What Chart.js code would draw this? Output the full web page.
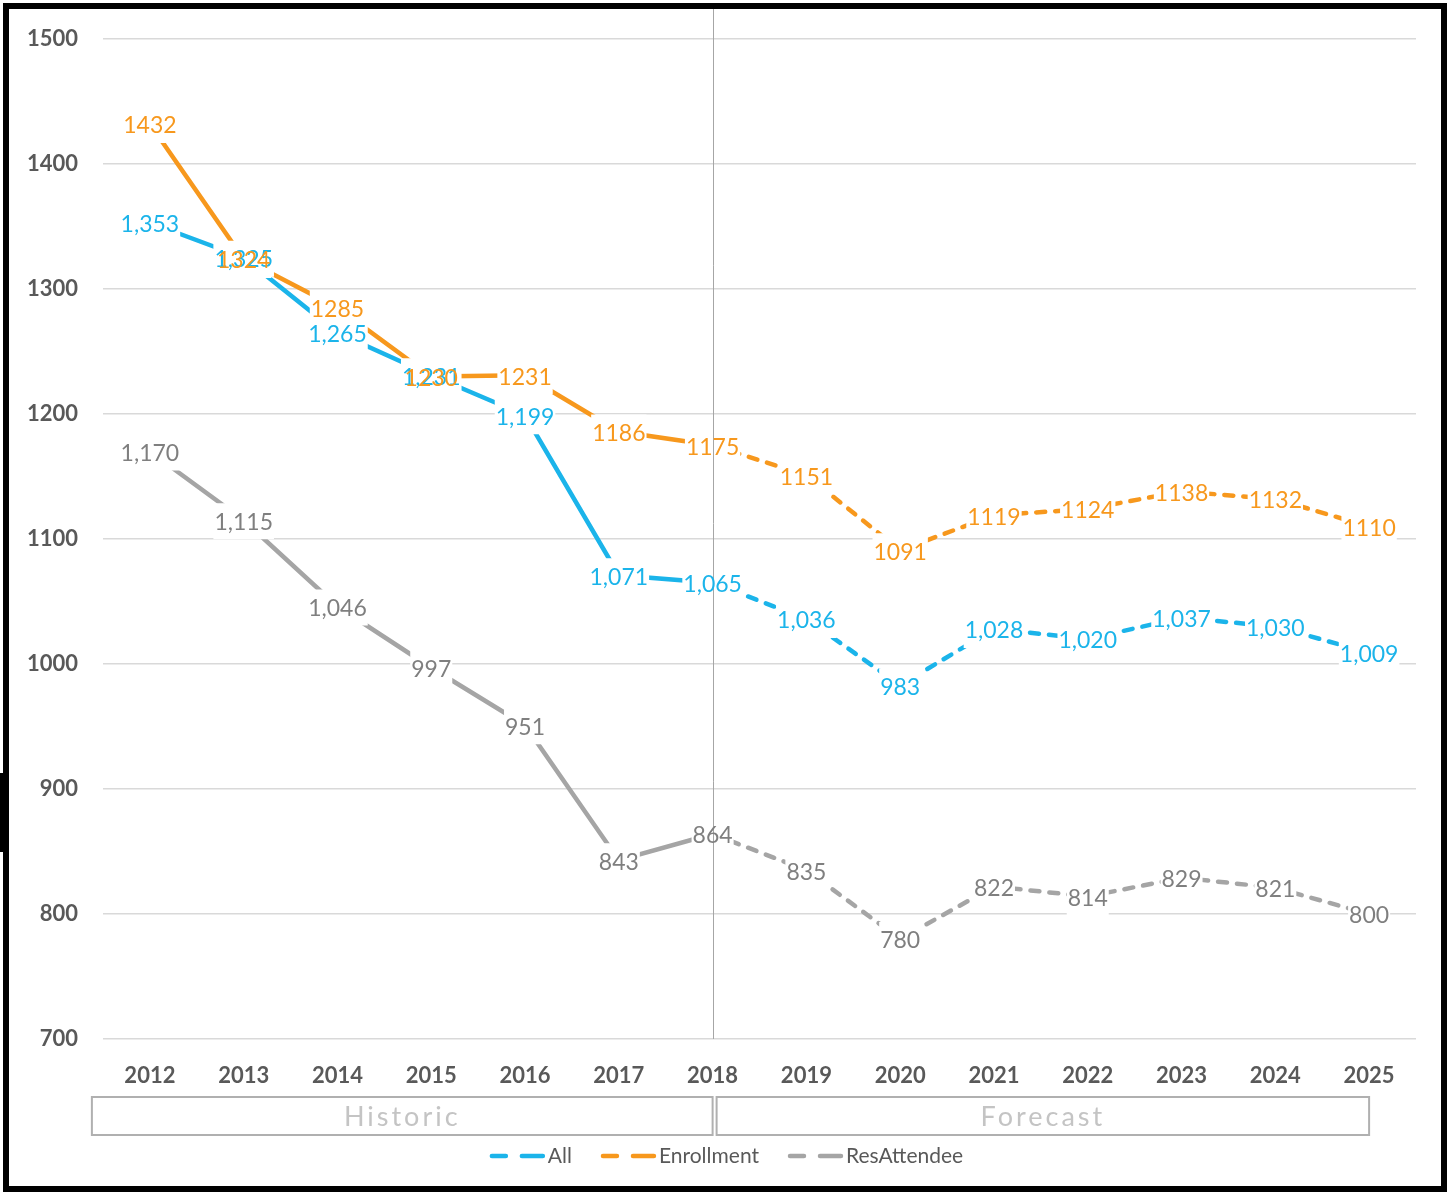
<!DOCTYPE html>
<html>
<head>
<meta charset="utf-8">
<script src="https://cdn.jsdelivr.net/npm/chart.js@4.4.1/dist/chart.umd.min.js"></script>
<style>
  body { margin: 0; background: #fff; }
  canvas { display: block; }
</style>
</head>
<body>
<canvas id="enrollChart" width="1447" height="1192"></canvas>
<script>
const years = ['2012', '2013', '2014', '2015', '2016', '2017', '2018', '2019', '2020', '2021', '2022', '2023', '2024', '2025'];
const allValues = [1353, 1325, 1265, 1231, 1199, 1071, 1065, 1036, 983, 1028, 1020, 1037, 1030, 1009];
const enrollment = [1432, 1324, 1285, 1230, 1231, 1186, 1175, 1151, 1091, 1119, 1124, 1138, 1132, 1110];
const resAttendee = [1170, 1115, 1046, 997, 951, 843, 864, 835, 780, 822, 814, 829, 821, 800];
const yMin = 700, yMax = 1500, yStep = 100;
const forecastFrom = 6; // 2018: dashed from here on
const periods = ['Historic', 'Forecast'];

const BLUE = '#1BB4EA', ORANGE = '#F7981D', GRAY = '#A5A5A5';
const TEXT = '#595959';

const dashAfter = (ctx) => ctx.p0DataIndex >= forecastFrom ? [9, 10] : [];

function line(label, data, color) {
  return {
    label, data,
    borderColor: color,
    backgroundColor: color,
    borderWidth: 4.5,
    borderCapStyle: 'round',
    pointRadius: 0,
    tension: 0,
    segment: { borderDash: dashAfter }
  };
}

const withComma = v => v.toLocaleString('en-US');
const plain = v => String(v);
const labelStyle = [
  { fmt: withComma, color: '#1BB4EA' },
  { fmt: plain, color: '#F7981D' },
  { fmt: withComma, color: '#7F7F7F' }
];

// data labels with white backing, plus the 2018 divider line
const labelPlugin = {
  id: 'pointLabels',
  afterDatasetsDraw(chart) {
    const ctx = chart.ctx;
    const items = [];
    ctx.save();
    ctx.font = '23px Lato';
    chart.data.datasets.forEach((ds, i) => {
      chart.getDatasetMeta(i).data.forEach((pt, j) => {
        const text = labelStyle[i].fmt(ds.data[j]);
        items.push({ x: pt.x, y: pt.y + 2, text, w: ctx.measureText(text).width, color: labelStyle[i].color });
      });
    });
    ctx.fillStyle = '#fff';
    items.forEach(it => ctx.fillRect(it.x - it.w / 2 - 1, it.y - 19, it.w + 2, 36));

    const xs = chart.scales.x;
    const divX = Math.round(xs.getPixelForValue(forecastFrom)) + 0.5;
    ctx.strokeStyle = '#A6A6A6';
    ctx.lineWidth = 1;
    ctx.beginPath();
    ctx.moveTo(divX, 8);
    ctx.lineTo(divX, chart.chartArea.bottom);
    ctx.stroke();

    ctx.textAlign = 'center';
    ctx.textBaseline = 'middle';
    items.forEach(it => {
      ctx.fillStyle = it.color;
      ctx.fillText(it.text, it.x, it.y);
    });
    ctx.restore();
  }
};

// period boxes, legend and outer frame
const decorPlugin = {
  id: 'decor',
  afterDraw(chart) {
    const ctx = chart.ctx;
    const xs = chart.scales.x;
    const x0 = xs.getPixelForValue(0);
    const xf = xs.getPixelForValue(forecastFrom);
    const xl = xs.getPixelForValue(years.length - 1);
    ctx.save();

    const boxes = [[x0 - 58, xf], [xf + 4, xl]];
    ctx.lineWidth = 2;
    ctx.strokeStyle = '#B0B0B0';
    ctx.font = '27px Lato';
    ctx.letterSpacing = '3px';
    ctx.textAlign = 'center';
    ctx.textBaseline = 'middle';
    boxes.forEach(([a, b], i) => {
      ctx.strokeRect(a, 1097, b - a, 38);
      ctx.fillStyle = '#C4C4C4';
      ctx.fillText(periods[i], (a + b) / 2, 1117);
    });
    ctx.letterSpacing = '0px';

    // legend
    ctx.font = '21px Lato';
    ctx.textAlign = 'left';
    const ly = 1156;
    const entries = chart.data.datasets.map(ds => ({ text: ds.label, color: ds.borderColor }));
    const sample = 56, gapText = 3, gapItem = 28;
    let total = 0;
    entries.forEach(e => { e.w = ctx.measureText(e.text).width; total += sample + gapText + e.w; });
    total += gapItem * (entries.length - 1);
    let lx = 726 - total / 2;
    entries.forEach(e => {
      ctx.strokeStyle = e.color;
      ctx.lineWidth = 4.5;
      ctx.lineCap = 'round';
      ctx.beginPath();
      ctx.moveTo(lx + 3, ly); ctx.lineTo(lx + 17, ly);
      ctx.moveTo(lx + 33, ly); ctx.lineTo(lx + sample - 2, ly);
      ctx.stroke();
      ctx.fillStyle = TEXT;
      ctx.fillText(e.text, lx + sample + gapText, ly);
      lx += sample + gapText + e.w + gapItem;
    });

    // outer frame
    ctx.lineCap = 'butt';
    ctx.strokeStyle = '#000';
    ctx.lineWidth = 6;
    ctx.strokeRect(6, 6, 1438, 1183);
    ctx.fillStyle = '#000';
    ctx.fillRect(0, 773, 9, 79);
    ctx.restore();
  }
};

new Chart(document.getElementById('enrollChart'), {
  type: 'line',
  data: {
    labels: years,
    datasets: [
      line('All', allValues, BLUE),
      line('Enrollment', enrollment, ORANGE),
      line('ResAttendee', resAttendee, GRAY)
    ]
  },
  options: {
    responsive: false,
    animation: false,
    layout: { padding: { top: 39, right: 31, left: 0, bottom: 0 } },
    plugins: {
      legend: { display: false },
      tooltip: { enabled: false }
    },
    scales: {
      x: {
        offset: true,
        grid: { display: false },
        border: { display: false },
        ticks: { color: TEXT, font: { family: 'Lato', size: 22, weight: 'bold' }, padding: 16, maxRotation: 0 },
        afterFit(scale) { scale.height = 153; }
      },
      y: {
        min: yMin, max: yMax,
        grid: { color: '#D9D9D9', lineWidth: 1.5, drawTicks: false },
        border: { display: false },
        ticks: {
          stepSize: yStep, color: TEXT, padding: 25,
          font: { family: 'Lato', size: 22, weight: 'bold' },
          callback: v => String(v)
        },
        afterFit(scale) { scale.width = 103; }
      }
    }
  },
  plugins: [labelPlugin, decorPlugin]
});
</script>
</body>
</html>
